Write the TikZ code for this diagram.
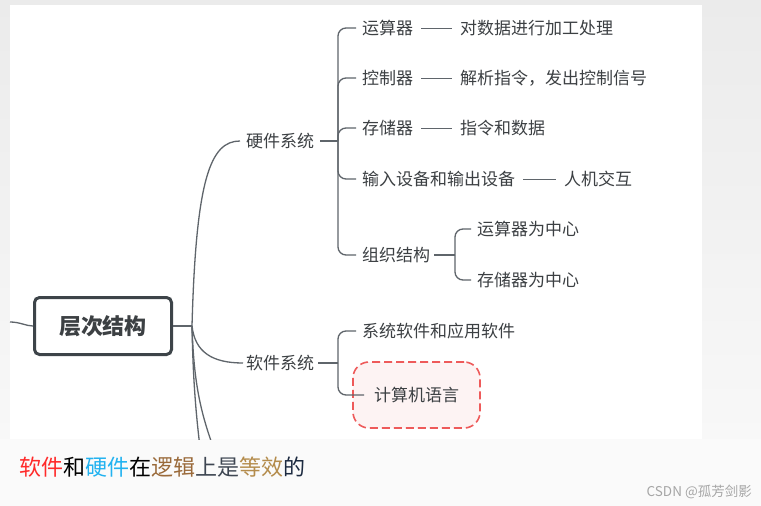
\documentclass[tikz,border=0pt]{standalone}
\usepackage{fontspec}
\setmainfont{Noto Sans CJK SC}
\usetikzlibrary{positioning,calc}
\definecolor{mmtext}{HTML}{3C4043}
\definecolor{mmline}{HTML}{5F656B}
\definecolor{mmroot}{HTML}{3D4449}
\definecolor{langred}{HTML}{EE5A5A}
\definecolor{langfill}{HTML}{FDF3F3}
\definecolor{bggray}{HTML}{EBEBEB}
\definecolor{bglight}{HTML}{F8F8F8}
\definecolor{capred}{HTML}{FF2A2A}
\definecolor{capblue}{HTML}{22B2F0}
\definecolor{capbrown}{HTML}{9A6A3A}
\definecolor{capslate}{HTML}{3E4652}
\definecolor{capgold}{HTML}{B48C4C}
\definecolor{capnavy}{HTML}{1C2A40}
\tikzset{
  mmlink/.style={draw=mmline, line width=1.3pt},
  mmnode/.style={anchor=west, inner sep=0pt, text=mmtext, font=\fontsize{17}{20}\selectfont},
  mmbranch/.style={mmlink, rounded corners=8pt, shorten >=6pt},
}

\begin{document}
\begin{tikzpicture}[
  x=1pt, y=-1pt,
  rootbox/.style={draw=mmroot, line width=3pt, rounded corners=5pt, fill=white,
    minimum width=137pt, minimum height=57pt, text=mmtext,
    font=\fontsize{22}{26}\selectfont\bfseries},
  langbox/.style={mmnode, anchor=center, draw=langred, dashed, line width=1.6pt,
    dash pattern=on 8pt off 4pt, rounded corners=16pt, fill=langfill,
    minimum width=127pt, minimum height=66pt},
]
  \useasboundingbox (0,0) rectangle (761,506);

  % Background and panel
  \shade[top color=bggray, bottom color=bglight] (0,0) rectangle (761,439);
  \fill[white] (10,5) rectangle (702,439);
  \fill[white!98!black] (0,439) rectangle (761,506);

  % Root
  \node[rootbox] (root) at (103,326) {层次结构};
  \coordinate (lin) at (10,322);
  \coordinate (rj) at (192,326);

  % Hardware
  \node[mmnode] (hw) at (246,141) {硬件系统};
  \coordinate (hj) at (338,141);
  \node[mmnode] (c1) at (362,28) {运算器};
  \node[mmnode] (d1) at (460,28) {对数据进行加工处理};
  \node[mmnode] (c2) at (362,78) {控制器};
  \node[mmnode] (d2) at (460,78) {解析指令，发出控制信号};
  \node[mmnode] (c3) at (362,128) {存储器};
  \node[mmnode] (d3) at (460,128) {指令和数据};
  \node[mmnode] (c4) at (362,179) {输入设备和输出设备};
  \node[mmnode] (d4) at (564,179) {人机交互};
  \node[mmnode] (c5) at (362,255) {组织结构};
  \coordinate (oj) at (455,255);
  \node[mmnode] (e1) at (477,229) {运算器为中心};
  \node[mmnode] (e2) at (477,280) {存储器为中心};

  % Software
  \node[mmnode] (sw) at (246,363) {软件系统};
  \coordinate (sj) at (338,363);
  \node[mmnode] (s1) at (362,331) {系统软件和应用软件};
  \node[langbox] (s2) at (416.5,395) {计算机语言};

  % Links
  \draw[mmlink] (lin) .. controls (20,322) and (26,326) .. (root.west);
  \draw[mmlink] (root.east) -- (rj);
  \draw[mmlink, shorten >=6pt] (rj) .. controls (196,180) and (210,141) .. (hw.west);
  \draw[mmlink, shorten >=3pt] (rj) .. controls (195,352) and (212,363) .. (sw.west);
  \begin{scope}
    \clip (10,5) rectangle (702,439);
    \draw[mmlink] (rj) .. controls (193,380) and (196,420) .. (203,470);
    \draw[mmlink] (rj) .. controls (194,390) and (202,420) .. (222,470);
  \end{scope}

  \draw[mmlink, line width=1.8pt, shorten <=6pt] (hw.east) -- (hj);
  \foreach \c in {c1,c2,c3,c4,c5}
    \draw[mmbranch] (hj) |- (\c.west);
  \foreach \c/\d in {c1/d1,c2/d2,c3/d3,c4/d4}
    \draw[mmlink, line width=1pt, shorten <=8pt, shorten >=8pt] (\c.east) -- (\d.west);

  \draw[mmlink, line width=1.8pt, shorten <=4pt] (c5.east) -- (oj);
  \foreach \e in {e1,e2}
    \draw[mmbranch] (oj) |- (\e.west);

  \draw[mmlink, line width=1.8pt, shorten <=4pt] (sw.east) -- (sj);
  \draw[mmbranch] (sj) |- (s1.west);
  \draw[mmbranch] (sj) |- ([xshift=18pt]s2.west);

  % Caption
  \node[anchor=west, inner sep=0pt, font=\fontsize{22}{25}\selectfont] (cap) at (19,467)
    {\textcolor{capred}{软件}和\textcolor{capblue}{硬件}在\textcolor{capbrown}{逻辑}\textcolor{capslate}{上是}\textcolor{capgold}{等效}\textcolor{capnavy}{的}};
  \node[anchor=east, inner sep=0pt, text=black!35, font=\fontsize{13.5}{16}\selectfont] (mark) at (752,492)
    {CSDN @孤芳剑影};
\end{tikzpicture}
\end{document}
